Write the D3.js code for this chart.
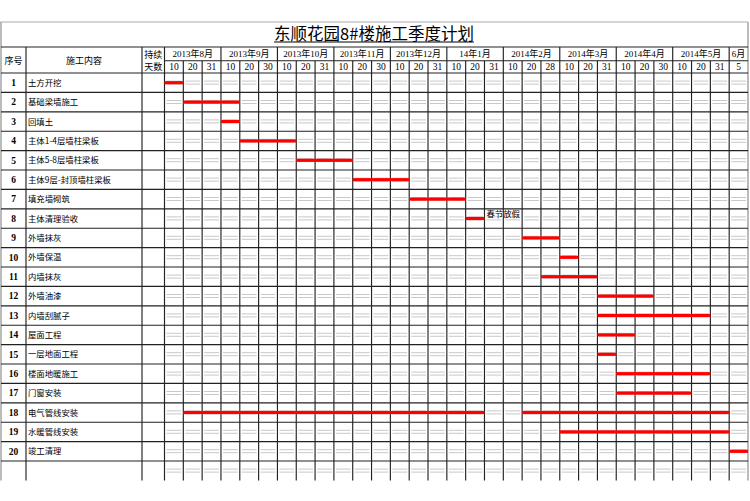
<!DOCTYPE html>
<html>
<head>
<meta charset="utf-8">
<script src="https://cdn.jsdelivr.net/npm/d3@7"></script>
<style>
  body { margin: 0; background: #fff; }
  svg { display: block; }
</style>
</head>
<body>
<div id="chart"></div>
<script>
// title of the sheet
const chartTitle = "东顺花园8#楼施工季度计划";

// header months and the day marks under each month
const months = ["2013-08", "2013-09", "2013-10", "2013-11", "2013-12", "2014-01",
                "2014-02", "2014-03", "2014-04", "2014-05", "2014-06"];
const monthLabels = ["2013年8月", "2013年9月", "2013年10月", "2013年11月", "2013年12月", "14年1月",
                     "2014年2月", "2014年3月", "2014年4月", "2014年5月", "6月"];
const dayLabels = [["10", "20", "31"], ["10", "20", "30"], ["10", "20", "31"], ["10", "20", "30"],
                   ["10", "20", "31"], ["10", "20", "31"], ["10", "20", "28"], ["10", "20", "31"],
                   ["10", "20", "30"], ["10", "20", "31"], ["5"]];

// tasks
const taskNames = ["土方开挖", "基础梁墙施工", "回填土", "主体1-4层墙柱梁板", "主体5-8层墙柱梁板",
                   "主体9层-封顶墙柱梁板", "填充墙砌筑", "主体清理验收", "外墙抹灰", "外墙保温",
                   "内墙抹灰", "外墙油漆", "内墙刮腻子", "屋面工程", "一层地面工程",
                   "楼面地暖施工", "门窗安装", "电气管线安装", "水暖管线安装", "竣工清理"];

// bar segments per task: [first period, last period]
const taskSegments = [
    [["2013-08-10", "2013-08-10"]],
    [["2013-08-20", "2013-09-10"]],
    [["2013-09-10", "2013-09-10"]],
    [["2013-09-20", "2013-10-10"]],
    [["2013-10-20", "2013-11-10"]],
    [["2013-11-20", "2013-12-10"]],
    [["2013-12-20", "2014-01-10"]],
    [["2014-01-20", "2014-01-20"]],
    [["2014-02-20", "2014-02-28"]],
    [["2014-03-10", "2014-03-10"]],
    [["2014-02-28", "2014-03-20"]],
    [["2014-03-31", "2014-04-20"]],
    [["2014-03-31", "2014-05-20"]],
    [["2014-03-31", "2014-04-10"]],
    [["2014-03-31", "2014-03-31"]],
    [["2014-04-10", "2014-05-20"]],
    [["2014-04-10", "2014-05-10"]],
    [["2013-08-20", "2014-01-20"], ["2014-02-20", "2014-05-31"]],
    [["2014-03-10", "2014-05-31"]],
    [["2014-06-05", "2014-06-05"]]
];

// notes written next to a bar
const taskNotes = [{ task: 8, text: "春节放假" }];

const width = 750, height = 501;
const cjk = "'Noto Sans CJK SC', sans-serif";
const serif = "'Liberation Serif', 'Noto Sans CJK SC', serif";

// periods in display order
const periods = [];
months.forEach((m, i) => dayLabels[i].forEach(d => periods.push({ key: m + "-" + d.padStart(2, "0"), month: i, day: d })));
const periodKeys = periods.map(p => p.key);

// column edges of the sheet
const colNo = [1, 26], colName = [26, 142], colDays = [142, 164.5];
const gridRight = 748;
const yTop = 22, yHead = 47, yMid = 60.7, yBody = 73, rowH = 19.4;

const x = d3.scaleBand().domain(periodKeys).range([colDays[1], gridRight]);
const rowIds = d3.range(1, taskNames.length + 2); // one spare empty row at the bottom
const y = d3.scaleBand().domain(rowIds).range([yBody, yBody + rowIds.length * rowH]);
const yBottom = yBody + rowIds.length * rowH;

const svg = d3.select("#chart").append("svg")
    .attr("width", width)
    .attr("height", height);

// title
const title = svg.append("text")
    .attr("x", 374)
    .attr("y", 39.5)
    .attr("text-anchor", "middle")
    .attr("font-family", cjk)
    .attr("font-size", 16.5)
    .attr("fill", "#000")
    .text(chartTitle);
const tw = title.node().getComputedTextLength();
svg.append("line")
    .attr("x1", 374 - tw / 2).attr("x2", 374 + tw / 2)
    .attr("y1", 42).attr("y2", 42)
    .attr("stroke", "#000").attr("stroke-width", 1.2);

// faint double lines in every date cell
const faint = svg.append("g").attr("stroke", "#c8c8c8").attr("stroke-width", 1);
rowIds.forEach(r => {
    const cy = y(r) + y.bandwidth() / 2;
    periodKeys.forEach(k => {
        [-1.6, 1.4].forEach(off => {
            faint.append("line")
                .attr("x1", x(k) + 2).attr("x2", x(k) + x.bandwidth() - 2)
                .attr("y1", cy + off).attr("y2", cy + off);
        });
    });
});

// grid lines
const grid = svg.append("g").attr("stroke", "#222").attr("stroke-width", 1.15);
// light outer frame of the title area
svg.append("line").attr("x1", 0).attr("x2", gridRight).attr("y1", yTop).attr("y2", yTop)
    .attr("stroke", "#aaa");
grid.append("line").attr("x1", colNo[0]).attr("x2", colNo[0]).attr("y1", yTop).attr("y2", yBottom).attr("stroke", "#888");
grid.append("line").attr("x1", gridRight).attr("x2", gridRight).attr("y1", yTop).attr("y2", yBottom).attr("stroke", "#888");

// horizontal lines
grid.append("line").attr("x1", colNo[0]).attr("x2", gridRight).attr("y1", yHead).attr("y2", yHead);
grid.append("line").attr("x1", colDays[1]).attr("x2", gridRight).attr("y1", yMid).attr("y2", yMid);
d3.range(0, taskNames.length + 1).forEach(i => {
    grid.append("line").attr("x1", colNo[0]).attr("x2", gridRight)
        .attr("y1", yBody + i * rowH).attr("y2", yBody + i * rowH);
});

// vertical lines of the fixed columns
[colNo[1], colName[1], colDays[1]].forEach(cx => {
    grid.append("line").attr("x1", cx).attr("x2", cx).attr("y1", yHead).attr("y2", yBottom);
});
// vertical lines of the date columns
periods.forEach((p, i) => {
    if (i === 0) return;
    const monthStart = p.month !== periods[i - 1].month;
    const cx = x(p.key);
    grid.append("line").attr("x1", cx).attr("x2", cx)
        .attr("y1", monthStart ? yHead : yMid).attr("y2", yBottom);
});

// header texts
const head = svg.append("g").attr("font-family", cjk).attr("font-size", 9).attr("fill", "#000")
    .attr("text-anchor", "middle");
head.append("text").attr("x", (colNo[0] + colNo[1]) / 2).attr("y", 63.5).text("序号");
head.append("text").attr("x", (colName[0] + colName[1]) / 2).attr("y", 63.5).text("施工内容");
head.append("text").attr("x", (colDays[0] + colDays[1]) / 2).attr("y", 57.5).text("持续");
head.append("text").attr("x", (colDays[0] + colDays[1]) / 2).attr("y", 69.5).text("天数");

// month labels
monthLabels.forEach((m, i) => {
    const ks = periods.filter(p => p.month === i).map(p => p.key);
    const cx = (x(ks[0]) + x(ks[ks.length - 1]) + x.bandwidth()) / 2;
    svg.append("text")
        .attr("x", cx).attr("y", 57.3)
        .attr("text-anchor", "middle")
        .attr("font-family", serif).attr("font-size", 9)
        .text(m);
});
// day labels
svg.selectAll("text.day")
    .data(periods)
    .join("text")
    .attr("class", "day")
    .attr("x", d => x(d.key) + x.bandwidth() / 2)
    .attr("y", 70.3)
    .attr("text-anchor", "middle")
    .attr("font-family", serif).attr("font-size", 9.5)
    .text(d => d.day);

// row numbers and task names
taskNames.forEach((name, i) => {
    const cy = y(i + 1) + y.bandwidth() / 2;
    svg.append("text")
        .attr("x", (colNo[0] + colNo[1]) / 2).attr("y", cy + 3.3)
        .attr("text-anchor", "middle")
        .attr("font-family", serif).attr("font-size", 9.5).attr("font-weight", "bold")
        .text(i + 1);
    svg.append("text")
        .attr("x", colName[0] + 2).attr("y", cy + 3)
        .attr("font-family", cjk).attr("font-size", 8.4)
        .text(name);
});

// bars
taskSegments.forEach((segs, i) => {
    const cy = y(i + 1) + y.bandwidth() / 2;
    svg.selectAll(null)
        .data(segs)
        .join("rect")
        .attr("x", d => x(d[0]))
        .attr("width", d => x(d[1]) + x.bandwidth() - x(d[0]))
        .attr("y", cy - 1.6)
        .attr("height", 3.2)
        .attr("fill", "#ff0000");
});

// notes
taskNotes.forEach(n => {
    const segs = taskSegments[n.task - 1];
    const last = segs[segs.length - 1][1];
    svg.append("text")
        .attr("x", x(last) + x.bandwidth() + 2)
        .attr("y", y(n.task) + y.bandwidth() / 2 - 1.5)
        .attr("font-family", cjk).attr("font-size", 8.4)
        .text(n.text);
});
</script>
</body>
</html>
